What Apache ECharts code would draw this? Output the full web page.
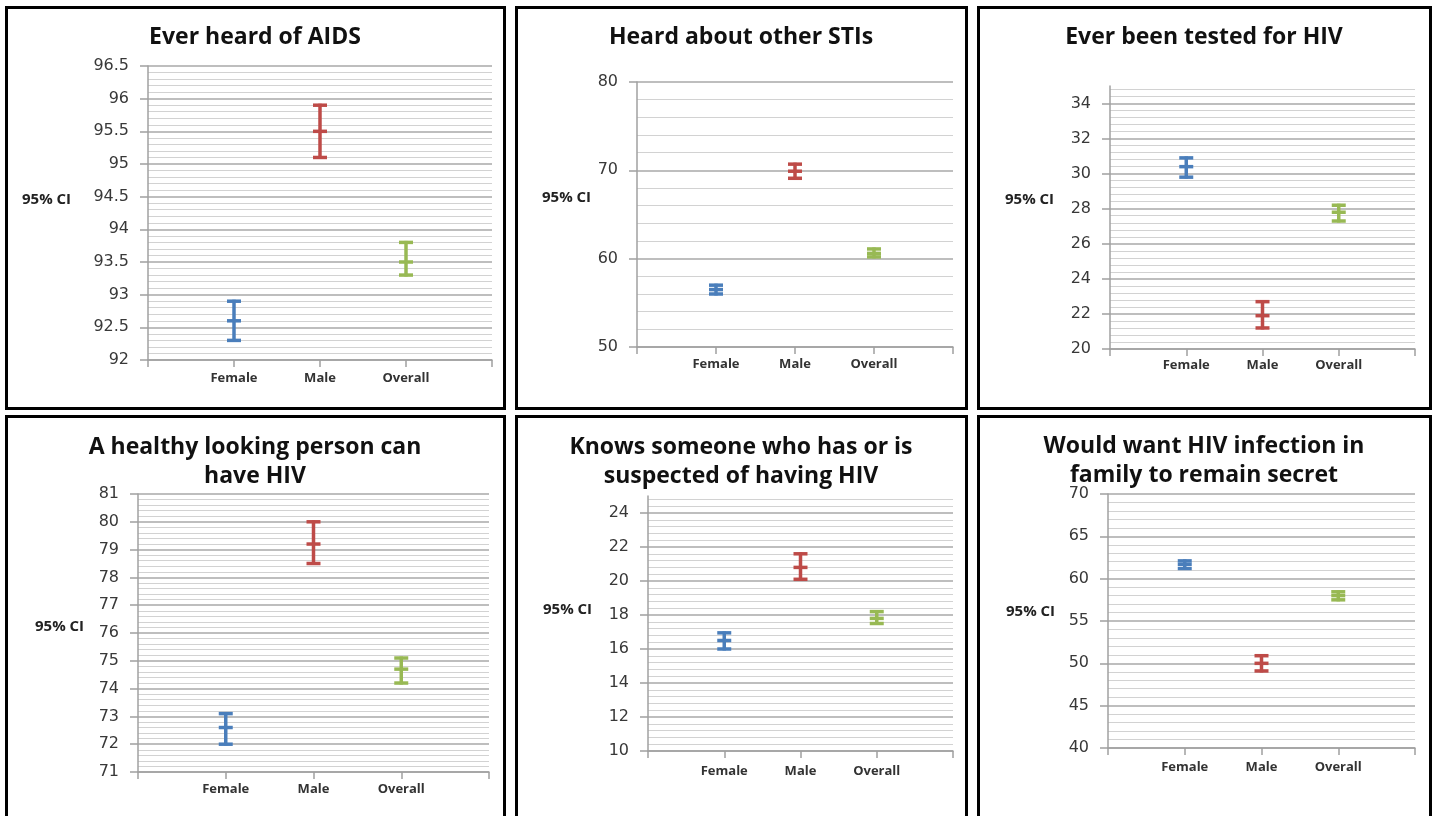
<!DOCTYPE html>
<html>
<head>
<meta charset="utf-8">
<script src="https://cdn.jsdelivr.net/npm/echarts@6/dist/echarts.min.js"></script>
<style>
html,body{margin:0;padding:0;background:#fff;}
#chart{width:1436px;height:816px;}
</style>
</head>
<body>
<div id="chart"></div>
<script>
// ---- data ----
const categories = ['', 'Female', 'Male', 'Overall', ''];
const panelTitles = [
  'Ever heard of AIDS',
  'Heard about other STIs',
  'Ever been tested for HIV',
  'A healthy looking person can\nhave HIV',
  'Knows someone who has or is\nsuspected of having HIV',
  'Would want HIV infection in\nfamily to remain secret'
];
const yAxisName = '95% CI';

// CI lower / point estimate / upper for Female, Male, Overall
const aidsLow  = [92.3, 95.1, 93.3];
const aidsMid  = [92.6, 95.5, 93.5];
const aidsHigh = [92.9, 95.9, 93.8];

const stiLow  = [56.0, 69.1, 60.2];
const stiMid  = [56.5, 69.9, 60.6];
const stiHigh = [57.0, 70.7, 61.1];

const testedLow  = [29.8, 21.2, 27.3];
const testedMid  = [30.4, 21.9, 27.8];
const testedHigh = [30.9, 22.7, 28.2];

const healthyLow  = [72.0, 78.5, 74.2];
const healthyMid  = [72.6, 79.2, 74.7];
const healthyHigh = [73.1, 80.0, 75.1];

const knowsLow  = [16.0, 20.1, 17.5];
const knowsMid  = [16.5, 20.8, 17.8];
const knowsHigh = [16.95, 21.6, 18.2];

const secretLow  = [61.2, 49.1, 57.5];
const secretMid  = [61.7, 50.0, 58.0];
const secretHigh = [62.1, 50.9, 58.45];

// axis ranges: [min, max, interval]
const yRanges = [
  [92, 96.5, 0.5],
  [50, 80, 10],
  [20, 35, 2],
  [71, 81, 1],
  [10, 25, 2],
  [40, 70, 5]
];

const panelData = [
  [aidsLow, aidsMid, aidsHigh],
  [stiLow, stiMid, stiHigh],
  [testedLow, testedMid, testedHigh],
  [healthyLow, healthyMid, healthyHigh],
  [knowsLow, knowsMid, knowsHigh],
  [secretLow, secretMid, secretHigh]
];

// ---- layout / style ----
const catColors = ['#4a7ebb', '#be4b48', '#98b954'];
const grids = [
  {left: 148, top: 66, width: 344, height: 294},
  {left: 637, top: 82, width: 316, height: 265},
  {left: 1110, top: 86, width: 305, height: 263},
  {left: 138, top: 494, width: 351, height: 278},
  {left: 648, top: 496, width: 305, height: 255},
  {left: 1108, top: 494, width: 307, height: 254}
];
const titlePos = [
  {x: 255, y: 23}, {x: 741, y: 23}, {x: 1204, y: 23},
  {x: 255, y: 433}, {x: 741, y: 433}, {x: 1204, y: 432}
];
const ciPos = [
  {x: 22, y: 200}, {x: 542, y: 198}, {x: 1005, y: 200},
  {x: 35, y: 627}, {x: 543, y: 610}, {x: 1006, y: 612}
];
const xLabelMargin = [12, 11, 10, 11, 14, 13];
const boxes = [
  {x: 6.5, y: 7.5, w: 498, h: 401},
  {x: 516.5, y: 7.5, w: 450, h: 401},
  {x: 978.5, y: 7.5, w: 452, h: 401},
  {x: 6.5, y: 416.5, w: 498, h: 420},
  {x: 516.5, y: 416.5, w: 450, h: 420},
  {x: 978.5, y: 416.5, w: 452, h: 420}
];

const FONT = '"Open Sans", "DejaVu Sans", sans-serif';

function renderItem(params, api) {
  const x = api.value(0);
  const lo = api.coord([x, api.value(1)]);
  const mid = api.coord([x, api.value(2)]);
  const hi = api.coord([x, api.value(3)]);
  const w = 7;
  const style = {stroke: catColors[x - 1], lineWidth: 3.5, fill: null, lineCap: 'butt'};
  return {
    type: 'group',
    children: [
      {type: 'line', shape: {x1: hi[0], y1: hi[1] - 1.5, x2: lo[0], y2: lo[1] + 1.5}, style: style},
      {type: 'line', shape: {x1: hi[0] - w, y1: hi[1], x2: hi[0] + w, y2: hi[1]}, style: style},
      {type: 'line', shape: {x1: mid[0] - w, y1: mid[1], x2: mid[0] + w, y2: mid[1]}, style: style},
      {type: 'line', shape: {x1: lo[0] - w, y1: lo[1], x2: lo[0] + w, y2: lo[1]}, style: style}
    ]
  };
}

const option = {
  backgroundColor: '#ffffff',
  animation: false,
  title: [],
  grid: [],
  xAxis: [],
  yAxis: [],
  series: [],
  graphic: []
};

for (let i = 0; i < 6; i++) {
  option.title.push({
    text: panelTitles[i],
    left: titlePos[i].x,
    top: titlePos[i].y,
    padding: 0,
    textAlign: 'center',
    textStyle: {fontFamily: FONT, fontWeight: 'bold', fontSize: 23, color: '#111', lineHeight: 29}
  });
  option.grid.push(Object.assign({containLabel: false}, grids[i]));
  option.xAxis.push({
    type: 'category',
    gridIndex: i,
    data: categories,
    boundaryGap: false,
    axisLine: {show: true, lineStyle: {color: '#a0a0a0', width: 1.5}},
    axisTick: {show: true, alignWithLabel: true, length: 7, lineStyle: {color: '#a0a0a0', width: 1.5}},
    axisLabel: {show: true, interval: 0, margin: xLabelMargin[i], fontFamily: FONT, fontWeight: 'bold', fontSize: 13, color: '#333'},
    splitLine: {show: false}
  });
  const r = yRanges[i];
  option.yAxis.push({
    type: 'value',
    gridIndex: i,
    min: r[0],
    max: r[1],
    interval: r[2],
    axisLine: {show: true, lineStyle: {color: '#a0a0a0', width: 1.5}},
    axisTick: {show: true, inside: false, length: 8, lineStyle: {color: '#a0a0a0', width: 1.5}},
    axisLabel: {margin: 19, fontFamily: '"DejaVu Sans", sans-serif', fontSize: 16, color: '#383838', showMaxLabel: (i !== 2 && i !== 4)},
    splitLine: {show: true, showMaxLine: (i !== 2 && i !== 4), lineStyle: {color: '#a8a8a8', width: 1.5}},
    minorTick: {show: false, splitNumber: 5},
    minorSplitLine: {show: true, lineStyle: {color: '#d2d2d2', width: 1}}
  });
  const d = panelData[i];
  const items = [];
  for (let k = 0; k < 3; k++) items.push([k + 1, d[0][k], d[1][k], d[2][k]]);
  option.series.push({
    type: 'custom',
    xAxisIndex: i,
    yAxisIndex: i,
    renderItem: renderItem,
    encode: {x: 0, y: [1, 2, 3]},
    data: items,
    z: 10
  });
  option.graphic.push({
    type: 'rect',
    shape: {x: boxes[i].x, y: boxes[i].y, width: boxes[i].w, height: boxes[i].h},
    style: {fill: null, stroke: '#000', lineWidth: 3},
    silent: true
  });
  option.graphic.push({
    type: 'text',
    x: ciPos[i].x,
    y: ciPos[i].y,
    style: {text: yAxisName, font: 'bold 15px ' + FONT, fill: '#222', textVerticalAlign: 'middle'},
    silent: true
  });
}

const chart = echarts.init(document.getElementById('chart'), null, {renderer: 'canvas'});
chart.setOption(option);
</script>
</body>
</html>
